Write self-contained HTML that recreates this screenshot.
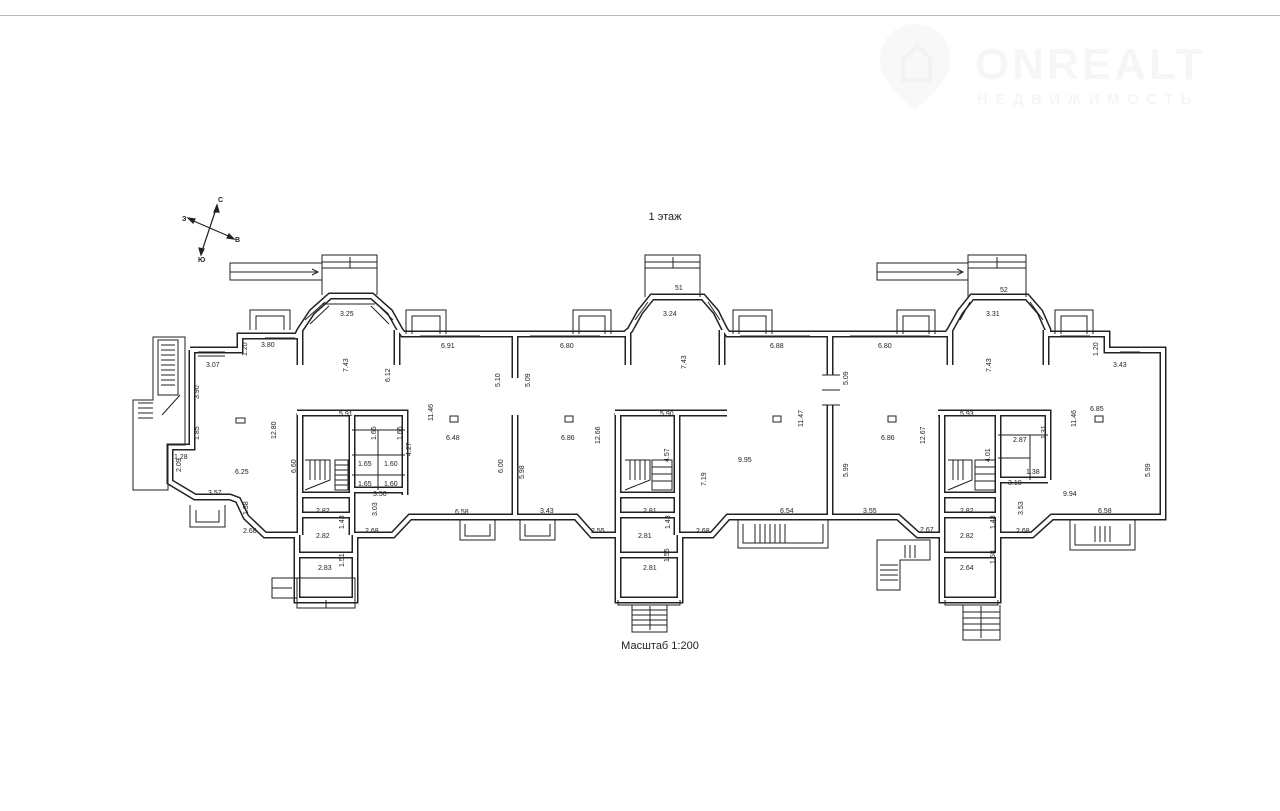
<!DOCTYPE html>
<html><head><meta charset="utf-8"><style>
html,body{margin:0;padding:0;background:#fff;width:1280px;height:811px;overflow:hidden}
svg{display:block}
text{font-family:"Liberation Sans",sans-serif;fill:#222}
.t{font-size:7px}
</style></head><body>
<svg width="1280" height="811" viewBox="0 0 1280 811" xmlns="http://www.w3.org/2000/svg">
<line x1="0" y1="15.5" x2="1280" y2="15.5" stroke="#b8b8b8" stroke-width="1"/>
<!-- watermark -->
<g>
<path d="M915 110 C885 85 878 70 880 55 C884 33 900 24 915 24 C932 24 948 35 950 55 C952 72 942 88 915 110Z" fill="#f8f8f8"/>
<path d="M903 80 L903 60 L917 46 L930 58 L930 80 Z" fill="none" stroke="#f2f2f2" stroke-width="4"/>
<text x="975" y="79" style="font-size:44px;font-weight:bold;fill:#f6f6f6;letter-spacing:3px">ONREALT</text>
<text x="977" y="104" style="font-size:15px;font-weight:bold;fill:#f6f6f6;letter-spacing:7.5px">НЕДВИЖИМОСТЬ</text>
</g>
<text x="665" y="220" text-anchor="middle" style="font-size:11px">1 этаж</text>
<text x="660" y="649" text-anchor="middle" style="font-size:11px">Масштаб 1:200</text>
<!-- compass -->
<g stroke="#222" stroke-width="1.2" fill="#222">
<line x1="201" y1="254" x2="217" y2="206"/><line x1="189" y1="219" x2="233" y2="238"/>
<polygon points="217,205 214,212 219,212"/><polygon points="201,255 199,248 204,249"/>
<polygon points="188,218 195,219 193,223"/><polygon points="234,239 227,238 229,234"/>
</g>
<g style="font-size:7px;font-weight:bold"><text x="218" y="202">С</text><text x="182" y="221">З</text><text x="235" y="242">В</text><text x="198" y="262">Ю</text></g>

<defs>
<g id="walls">
<path d="M190 350 L240 350 L240 336 L297 336 L300 330 L312 312 L330 296 L372 296 L390 312 L400 330 L403 334 L625 334 L630 330 L640 312 L652 297 L703 297 L716 312 L725 330 L728 334 L947 334 L950 330 L960 312 L972 297 L1027 297 L1040 312 L1048 330 L1048 334 L1107 334 L1107 350 L1163 350 L1163 517 L1052 517 L1032 535 L998 535 L998 600 L942 600 L942 535 L918 535 L898 517 L830 517 L728 517 L712 535 L680 535 L680 600 L618 600 L618 535 L592 535 L576 517 L410 517 L393 535 L355 535 L355 600 L297 600 L297 535 L265 535 L246 517 L238 500 L230 497 L195 497 L170 482 L170 447 L192 447 L192 350 Z"/>
<path d="M300 330 L300 365 M397 330 L397 365 M628 330 L628 365 M722 330 L722 365 M950 330 L950 365 M1046 330 L1046 365"/>
<path d="M515 334 L515 378 M515 415 L515 517 M830 334 L830 375 M830 405 L830 517"/>
<path d="M297 413 L405 413 L405 495 M300 413 L300 535 M352 413 L352 535 M300 495 L352 495 M300 515 L352 515 M352 490 L405 490"/>
<path d="M615 413 L727 413 M618 413 L618 535 M677 413 L677 535 M618 495 L677 495 M618 515 L677 515"/>
<path d="M938 413 L1048 413 L1048 480 M942 413 L942 535 M998 413 L998 535 M942 495 L998 495 M942 515 L998 515 M998 480 L1048 480"/>
<path d="M297 555 L355 555 M618 555 L680 555 M942 555 L998 555"/>
</g>
</defs>
<g fill="none" stroke-linejoin="miter">
<use href="#walls" stroke="#222" stroke-width="7"/>
<use href="#walls" stroke="#fff" stroke-width="4"/>
</g>
<g fill="none" stroke="#222" stroke-width="1">
<path d="M352 455 L405 455 M352 475 L405 475 M378 430 L378 490 M352 430 L405 430"/>
<path d="M998 435 L1048 435 M998 458 L1030 458 M1030 435 L1030 480"/>
<path d="M305 460 L330 460 L330 480 L305 490 M310 460 L310 480 M315 460 L315 480 M320 460 L320 480 M325 460 L325 480 M335 460 L348 460 L348 490 L335 490 Z M335 465 L348 465 M335 470 L348 470 M335 475 L348 475 M335 480 L348 480 M335 485 L348 485"/>
<path d="M625 460 L650 460 L650 480 L625 490 M630 460 L630 480 M635 460 L635 480 M640 460 L640 480 M645 460 L645 480 M652 460 L672 460 L672 490 L652 490 Z M652 467 L672 467 M652 474 L672 474 M652 481 L672 481"/>
<path d="M948 460 L972 460 L972 480 L948 490 M953 460 L953 480 M958 460 L958 480 M963 460 L963 480 M975 460 L995 460 L995 490 L975 490 Z M975 467 L995 467 M975 474 L995 474 M975 481 L995 481"/>
<path d="M250 330 L250 310 L290 310 L290 330 M256 330 L256 316 L284 316 L284 330"/>
<path d="M406 334 L406 310 L446 310 L446 334 M412 334 L412 316 L440 316 L440 334"/>
<path d="M573 334 L573 310 L611 310 L611 334 M579 334 L579 316 L605 316 L605 334"/>
<path d="M733 334 L733 310 L772 310 L772 334 M739 334 L739 316 L766 316 L766 334"/>
<path d="M897 334 L897 310 L935 310 L935 334 M903 334 L903 316 L929 316 L929 334"/>
<path d="M1055 334 L1055 310 L1093 310 L1093 334 M1061 334 L1061 316 L1087 316 L1087 334"/>
<path d="M322 295 L322 255 L377 255 L377 295 M322 262 L377 262 M322 268 L377 268 M350 257 L350 268"/>
<path d="M230 263 L322 263 L322 280 L230 280 Z M230 272 L318 272 M312 269 L318 272 L312 275"/>
<path d="M645 297 L645 255 L700 255 L700 297 M645 262 L700 262 M645 268 L700 268 M673 257 L673 268"/>
<path d="M968 297 L968 255 L1026 255 L1026 297 M968 262 L1026 262 M968 268 L1026 268 M997 257 L997 268"/>
<path d="M877 263 L968 263 L968 280 L877 280 Z M877 272 L963 272 M957 269 L963 272 L957 275"/>
<path d="M305 320 L325 302 M310 324 L329 306 M375 302 L393 320 M371 306 L389 324 M322 304 L375 304 M635 320 L648 302 M708 302 L720 320 M960 320 L970 302 M1030 302 L1043 320"/>
<path d="M198 352 L225 352 M198 356 L225 356 M265 338 L295 338 M420 336 L480 336 M530 336 L600 336 M740 336 L810 336 M850 336 L930 336 M1060 336 L1090 336 M1120 352 L1140 352"/>
<path d="M153 337 L185 337 L185 445 L168 445 L168 490 L133 490 L133 400 L153 400 Z M158 340 L178 340 L178 395 L158 395 Z M161 345 L175 345 M161 350 L175 350 M161 355 L175 355 M161 360 L175 360 M161 365 L175 365 M161 370 L175 370 M161 375 L175 375 M161 380 L175 380 M161 385 L175 385 M138 403 L153 403 M138 408 L153 408 M138 413 L153 413 M138 418 L153 418 M162 415 L180 395"/>
<path d="M190 505 L190 527 L225 527 L225 505 M196 510 L196 522 L219 522 L219 510"/>
<path d="M460 520 L460 540 L495 540 L495 520 M465 524 L465 536 L490 536 L490 524"/>
<path d="M520 520 L520 540 L555 540 L555 520 M525 524 L525 536 L550 536 L550 524"/>
<path d="M738 520 L738 548 L828 548 L828 520 M743 524 L743 543 L823 543 L823 524 M755 524 L755 543 M760 524 L760 543 M765 524 L765 543 M770 524 L770 543 M775 524 L775 543 M780 524 L780 543 M785 524 L785 543"/>
<path d="M1070 520 L1070 550 L1135 550 L1135 520 M1075 524 L1075 545 L1130 545 L1130 524 M1095 526 L1095 542 M1100 526 L1100 542 M1105 526 L1105 542 M1110 526 L1110 542"/>
<path d="M297 578 L355 578 L355 608 L297 608 Z M272 578 L297 578 L297 598 L272 598 Z M272 588 L292 588 M326 600 L326 608"/>
<path d="M618 600 L618 605 L680 605 L680 600 M632 605 L632 632 L667 632 L667 605 M632 610 L667 610 M632 615 L667 615 M632 620 L667 620 M632 625 L667 625 M650 606 L650 630"/>
<path d="M945 600 L945 605 L998 605 L998 600 M963 605 L963 640 L1000 640 L1000 605 M963 612 L1000 612 M963 618 L1000 618 M963 624 L1000 624 M963 630 L1000 630 M981 606 L981 638"/>
<path d="M877 540 L930 540 L930 560 L900 560 L900 590 L877 590 Z M880 565 L898 565 M880 570 L898 570 M880 575 L898 575 M880 580 L898 580 M905 545 L905 558 M910 545 L910 558 M915 545 L915 558"/>
<rect x="236" y="418" width="9" height="5"/><rect x="450" y="416" width="8" height="6"/><rect x="565" y="416" width="8" height="6"/><rect x="773" y="416" width="8" height="6"/><rect x="888" y="416" width="8" height="6"/><rect x="1095" y="416" width="8" height="6"/>
<path d="M822 375 L840 375 M822 390 L840 390 M822 405 L840 405"/>
</g>
<g class="t">
<text x="340" y="316">3.25</text><text x="663" y="316">3.24</text><text x="675" y="290">51</text><text x="986" y="316">3.31</text><text x="1000" y="292">52</text>
<text x="261" y="347">3.80</text><text x="206" y="367">3.07</text><text x="441" y="348">6.91</text><text x="560" y="348">6.80</text><text x="770" y="348">6.88</text><text x="878" y="348">6.80</text><text x="1113" y="367">3.43</text>
<text x="339" y="416">5.91</text><text x="446" y="440">6.48</text><text x="358" y="466">1.65</text><text x="384" y="466">1.60</text><text x="358" y="486">1.65</text><text x="384" y="486">1.60</text><text x="373" y="496">3.50</text>
<text x="235" y="474">6.25</text><text x="174" y="459">1.28</text><text x="208" y="495">3.57</text><text x="316" y="513">2.82</text><text x="316" y="538">2.82</text><text x="243" y="533">2.68</text><text x="365" y="533">2.68</text><text x="455" y="514">6.58</text><text x="318" y="570">2.83</text>
<text x="561" y="440">6.86</text><text x="660" y="416">5.90</text><text x="738" y="462">9.95</text><text x="540" y="513">3.43</text><text x="591" y="533">2.55</text><text x="643" y="513">2.81</text><text x="638" y="538">2.81</text><text x="696" y="533">2.68</text><text x="780" y="513">6.54</text><text x="643" y="570">2.81</text>
<text x="881" y="440">6.86</text><text x="960" y="416">5.93</text><text x="1090" y="411">6.85</text><text x="1013" y="442">2.87</text><text x="1008" y="485">3.10</text><text x="1026" y="474">1.38</text><text x="1063" y="496">9.94</text><text x="863" y="513">3.55</text><text x="920" y="532">2.67</text><text x="960" y="513">2.82</text><text x="1016" y="533">2.68</text><text x="1098" y="513">6.58</text><text x="960" y="538">2.82</text><text x="960" y="570">2.64</text>
</g>
<g class="t">
<text transform="translate(247,356) rotate(-90)">1.20</text>
<text transform="translate(348,372) rotate(-90)">7.43</text>
<text transform="translate(390,382) rotate(-90)">6.12</text>
<text transform="translate(500,387) rotate(-90)">5.10</text>
<text transform="translate(530,387) rotate(-90)">5.09</text>
<text transform="translate(686,369) rotate(-90)">7.43</text>
<text transform="translate(848,385) rotate(-90)">5.09</text>
<text transform="translate(991,372) rotate(-90)">7.43</text>
<text transform="translate(1098,356) rotate(-90)">1.20</text>
<text transform="translate(199,399) rotate(-90)">3.90</text>
<text transform="translate(276,439) rotate(-90)">12.80</text>
<text transform="translate(433,421) rotate(-90)">11.46</text>
<text transform="translate(376,440) rotate(-90)">1.65</text>
<text transform="translate(402,440) rotate(-90)">1.65</text>
<text transform="translate(411,456) rotate(-90)">4.27</text>
<text transform="translate(296,473) rotate(-90)">6.60</text>
<text transform="translate(199,440) rotate(-90)">1.85</text>
<text transform="translate(181,472) rotate(-90)">2.09</text>
<text transform="translate(248,515) rotate(-90)">1.38</text>
<text transform="translate(344,529) rotate(-90)">1.43</text>
<text transform="translate(377,516) rotate(-90)">3.03</text>
<text transform="translate(503,473) rotate(-90)">6.00</text>
<text transform="translate(524,479) rotate(-90)">5.98</text>
<text transform="translate(344,567) rotate(-90)">1.51</text>
<text transform="translate(600,444) rotate(-90)">12.66</text>
<text transform="translate(803,427) rotate(-90)">11.47</text>
<text transform="translate(706,486) rotate(-90)">7.19</text>
<text transform="translate(669,462) rotate(-90)">4.57</text>
<text transform="translate(670,529) rotate(-90)">1.43</text>
<text transform="translate(669,562) rotate(-90)">1.55</text>
<text transform="translate(848,477) rotate(-90)">5.99</text>
<text transform="translate(925,444) rotate(-90)">12.67</text>
<text transform="translate(1076,427) rotate(-90)">11.46</text>
<text transform="translate(1046,439) rotate(-90)">1.31</text>
<text transform="translate(1023,515) rotate(-90)">3.53</text>
<text transform="translate(1150,477) rotate(-90)">5.99</text>
<text transform="translate(995,529) rotate(-90)">1.43</text>
<text transform="translate(995,564) rotate(-90)">1.58</text>
<text transform="translate(990,462) rotate(-90)">4.01</text>
</g>
</svg>
</body></html>
